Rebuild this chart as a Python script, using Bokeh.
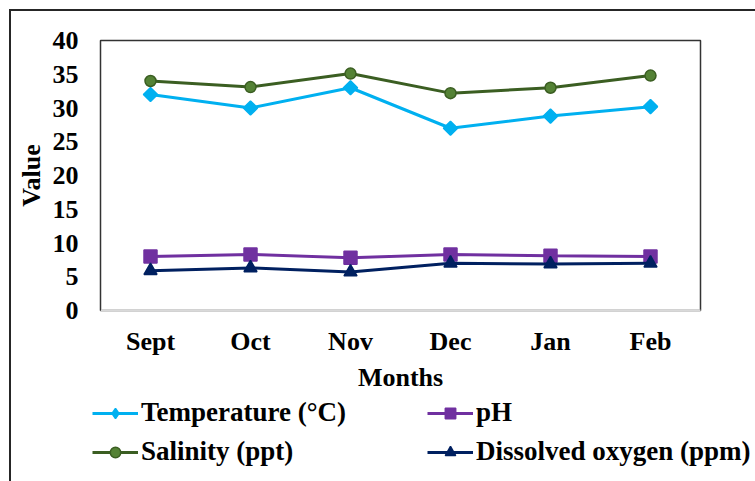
import math

from bokeh.embed import file_html
from bokeh.layouts import column
from bokeh.models import FactorRange, FixedTicker, Legend, LegendItem, Range1d
from bokeh.plotting import figure
from bokeh.resources import INLINE

# Monthly water-quality readings
months = ["Sept", "Oct", "Nov", "Dec", "Jan", "Feb"]
temperature = [32.0, 30.0, 33.0, 27.0, 28.8, 30.2]
ph = [8.0, 8.3, 7.8, 8.3, 8.1, 8.0]
salinity = [34.0, 33.1, 35.1, 32.2, 33.0, 34.8]
dissolved_oxygen = [5.9, 6.3, 5.7, 7.0, 6.9, 7.0]
y_ticks = [0, 5, 10, 15, 20, 25, 30, 35, 40]

FONT = "Liberation Serif"
TEXT_SIZE = "26px"
LEGEND_SIZE = "27px"

# series styles
STYLES = {
    "temp": dict(color="#00B0F0", marker="square", size=10, fill="#00B0F0", edge="#00B0F0", angle=math.pi / 4),
    "ph": dict(color="#7030A0", marker="square", size=13, fill="#7030A0", edge="#7030A0", angle=0.0),
    "sal": dict(color="#3B5E22", marker="circle", size=11, fill="#548235", edge="#3B5E22", angle=0.0),
    "do": dict(color="#002060", marker="triangle", size=13, fill="#002060", edge="#002060", angle=0.0),
}
SERIES = {"temp": temperature, "ph": ph, "sal": salinity, "do": dissolved_oxygen}

FIG_W = 744
MAIN_H = 383
LEG_H = 87

# ---- main chart ----
p = figure(
    width=FIG_W,
    height=MAIN_H,
    x_range=FactorRange(*months),
    y_range=Range1d(0, 40),
    output_backend="svg",
    toolbar_location=None,
    min_border_left=89,
    min_border_right=55,
    min_border_top=29,
    min_border_bottom=83,
    frame_align=False,
)
p.background_fill_color = "white"
p.border_fill_color = "white"
p.outline_line_color = "#333333"
p.outline_line_width = 1.5
p.xgrid.grid_line_color = None
p.ygrid.grid_line_color = None

for ax in (p.xaxis[0], p.yaxis[0]):
    ax.major_tick_in = 0
    ax.major_tick_out = 0
    ax.minor_tick_in = 0
    ax.minor_tick_out = 0
    ax.major_label_text_font = FONT
    ax.major_label_text_font_style = "bold"
    ax.major_label_text_font_size = TEXT_SIZE
    ax.major_label_text_color = "black"
    ax.axis_label_text_font = FONT
    ax.axis_label_text_font_style = "bold"
    ax.axis_label_text_font_size = TEXT_SIZE
    ax.axis_label_text_color = "black"

p.yaxis.ticker = FixedTicker(ticks=y_ticks)
p.yaxis.axis_label = "Value"
p.yaxis.axis_line_color = "#333333"
p.yaxis.major_label_standoff = 22
p.yaxis.axis_label_standoff = 4

p.xaxis.axis_label = "Months"
p.xaxis.axis_line_color = "#d9d9d9"
p.xaxis.axis_line_width = 2
p.xaxis.major_label_standoff = 16
p.xaxis.axis_label_standoff = 4


def draw_series(fig, xs, ys, st, marker=None):
    ln = fig.line(xs, ys, line_color=st["color"], line_width=3)
    mk = fig.scatter(xs, ys, marker=marker or st["marker"], size=st["size"], angle=st["angle"],
                     fill_color=st["fill"], line_color=st["edge"], line_width=1.5)
    return ln, mk


for name in ("temp", "ph", "sal", "do"):
    draw_series(p, months, SERIES[name], STYLES[name])

# ---- legend strip (series drawn off-range, only their legend keys show) ----
leg = figure(
    width=FIG_W,
    height=LEG_H,
    x_range=FactorRange(*months),
    y_range=Range1d(-2, -1),
    x_axis_type=None,
    y_axis_type=None,
    output_backend="svg",
    toolbar_location=None,
    min_border=0,
    min_border_left=0,
    min_border_right=0,
    min_border_top=0,
    min_border_bottom=0,
    frame_align=False,
)
leg.outline_line_color = None
leg.background_fill_color = "white"
leg.border_fill_color = "white"

key = {}
for name in STYLES:
    # the legend key ignores marker rotation, so the temperature key uses a diamond
    key[name] = draw_series(leg, months, SERIES[name], STYLES[name],
                            marker="diamond" if name == "temp" else None)


def make_legend(items, loc):
    return Legend(
        items=items,
        location=loc,
        orientation="vertical",
        glyph_width=46,
        glyph_height=26,
        label_standoff=3,
        spacing=8,
        padding=0,
        margin=0,
        border_line_color=None,
        background_fill_alpha=0,
        label_text_font=FONT,
        label_text_font_style="bold",
        label_text_font_size=LEGEND_SIZE,
        label_text_color="black",
    )


leg.add_layout(make_legend(
    [
        LegendItem(label="Temperature (°C)", renderers=list(key["temp"])),
        LegendItem(label="Salinity (ppt)", renderers=list(key["sal"])),
    ],
    (81, 14),
))
leg.add_layout(make_legend(
    [
        LegendItem(label="pH", renderers=list(key["ph"])),
        LegendItem(label="Dissolved oxygen (ppm)", renderers=list(key["do"])),
    ],
    (416, 14),
))

# outer chart border on the left and top
root = column(
    p, leg,
    spacing=0,
    margin=(9, 0, 0, 9),
    styles={
        "border-left": "2px solid #262626",
        "border-top": "2px solid #262626",
        "box-sizing": "content-box",
    },
)

open("out.html", "w").write(file_html(root, INLINE))
